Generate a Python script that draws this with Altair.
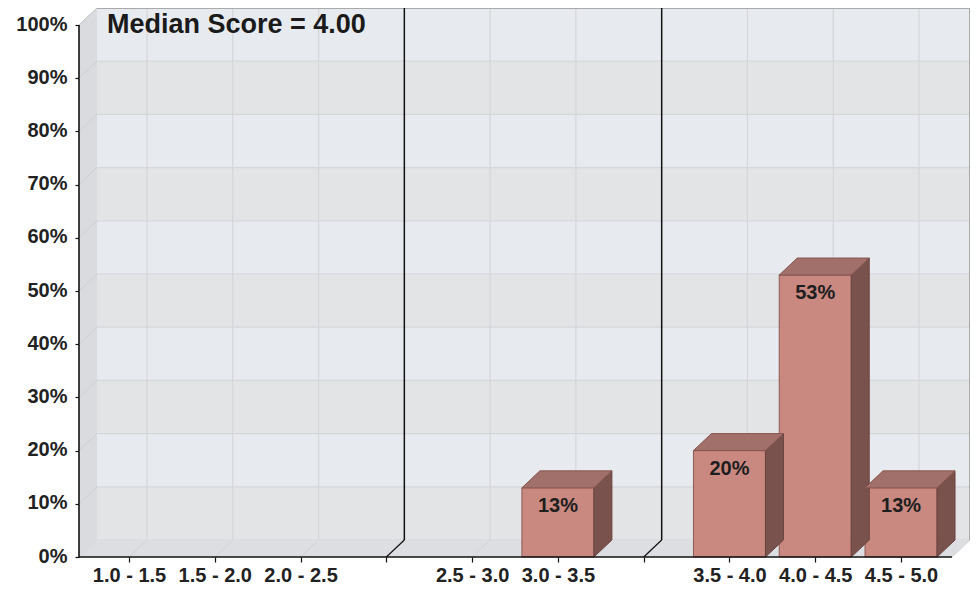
import json
import altair as alt
import pandas as pd

# ---------------- data ----------------
categories = ["1.0 - 1.5", "1.5 - 2.0", "2.0 - 2.5", "", "2.5 - 3.0", "3.0 - 3.5",
              "", "3.5 - 4.0", "4.0 - 4.5", "4.5 - 5.0"]
percent = [0, 0, 0, None, 0, 13, None, 20, 53, 13]
divider_slots = [3, 6]
y_ticks = [0, 10, 20, 30, 40, 50, 60, 70, 80, 90, 100]
title_text = "Median Score = 4.00"

# ---------------- geometry (pixels -> data units) ----------------
W, H = 891, 549
SLOT = 85.78                      # px per category slot
X0 = -50 / SLOT                   # left edge of plot (y axis)
X1 = X0 + W / SLOT                # right edge of back wall
DXP, DYP = 18, 17                 # 3D depth in px
DX = DXP / SLOT
Y1 = 100 / (1 - DYP / H)          # top of back wall
DY = Y1 - 100
BW = 36 / SLOT                    # half bar width

FONT = "Liberation Sans"
xs = alt.Scale(domain=[X0, X1], nice=False, zero=False)
ys = alt.Scale(domain=[0, Y1], nice=False, zero=False)

label_expr = json.dumps(categories) + "[round(datum.value)]"
x_axis = alt.Axis(
    values=list(range(len(categories))), labelExpr=label_expr, domain=False, grid=False,
    tickColor="#111", tickSize=5, tickWidth=1.2, labelFont=FONT, labelFontSize=20,
    labelFontWeight="bold", labelColor="#222", labelPadding=3, labelOverlap=False,
    labelFlush=False, labelBound=False, title=None)
y_axis = alt.Axis(
    values=y_ticks, labelExpr="datum.value + '%'", domain=False, grid=False,
    tickColor="#111", tickSize=4, tickWidth=1.2, labelFont=FONT, labelFontSize=20,
    labelFontWeight="bold", labelColor="#222", labelPadding=8, labelOffset=-1, title=None)


def X(f="x"):
    return alt.X(f"{f}:Q", scale=xs, axis=x_axis, title=None)


def Y(f="y"):
    return alt.Y(f"{f}:Q", scale=ys, axis=y_axis, title=None)


# ---------------- back wall bands ----------------
bands = pd.DataFrame({
    "x": [X0 + DX] * 10, "x2": [X1] * 10,
    "y": [v + DY for v in y_ticks[:-1]], "y2": [v + 10 + DY for v in y_ticks[:-1]],
    "shade": ["d" if (v // 10) % 2 == 0 else "l" for v in y_ticks[:-1]],
})
wall = alt.Chart(bands).mark_rect().encode(
    x=X(), x2="x2", y=Y(), y2="y2",
    color=alt.Color("shade:N", scale=alt.Scale(domain=["d", "l"], range=["#e3e4e6", "#e7eaee"]), legend=None),
)

# horizontal grid on back wall
hgrid = alt.Chart(pd.DataFrame({"y": [v + DY for v in y_ticks[:-1]]})).mark_rule(
    color="#d5d6d9", strokeWidth=1.2).encode(x=alt.value(DXP), x2=alt.value(W), y=Y())

# vertical grid on back wall
slots = [i for i, c in enumerate(categories) if c]
vgrid = alt.Chart(pd.DataFrame({"x": [i + DX for i in slots]})).mark_rule(
    color="#d5d6d9", strokeWidth=1.2).encode(x=X(), y=alt.value(H - DYP), y2=alt.value(0))

# left side wall
side = pd.DataFrame({"x": [X0, X0 + DX], "y": [0, DY], "y2": [100, 100 + DY]})
sidewall = alt.Chart(side).mark_area(color="#d9dbde").encode(x=X(), y=Y(), y2="y2")
side_diag = alt.Chart(pd.DataFrame({"y": y_ticks})).transform_calculate(
    x=str(X0), x2=str(X0 + DX), y2=f"datum.y + {DY}"
).mark_rule(color="#cdd0d3").encode(x=X(), x2="x2:Q", y=Y(), y2="y2:Q")

# floor
floor_df = pd.DataFrame({"x": [X0, X0 + DX, X1 - DX, X1], "y": [0, 0, 0, DY], "y2": [0, DY, DY, DY]})
floor = alt.Chart(floor_df).mark_area(color="#dcdee1").encode(x=X(), y=Y(), y2="y2")
floor_diag = alt.Chart(pd.DataFrame({"x": [float(i) for i in slots] + [X1 - DX]})).transform_calculate(
    x2=f"datum.x + {DX}", y="0", y2=str(DY)
).mark_rule(color="#cfd1d4").encode(x=X(), x2="x2:Q", y=Y(), y2="y2:Q")

# borders
top_border = alt.Chart(pd.DataFrame({"y": [Y1]})).mark_rule(color="#a9a9a9", strokeWidth=2).encode(
    x=alt.value(DXP), x2=alt.value(W), y=Y())
right_border = alt.Chart(pd.DataFrame({"x": [X1]})).mark_rule(color="#a9a9a9", strokeWidth=2).encode(
    x=X(), y=alt.value(0), y2=alt.value(H - DYP))
tl_diag = alt.Chart(pd.DataFrame({"x": [X0], "x2": [X0 + DX], "y": [100], "y2": [Y1]})).mark_rule(
    color="#c4c6c9").encode(x=X(), x2="x2:Q", y=Y(), y2="y2:Q")

# dividers
div_v = alt.Chart(pd.DataFrame({"x": [d + DX for d in divider_slots]})).mark_rule(
    color="#111", strokeWidth=1.5).encode(x=X(), y=alt.value(0), y2=alt.value(H - DYP))
div_d = alt.Chart(pd.DataFrame({"x": [float(d) for d in divider_slots]})).transform_calculate(
    x2=f"datum.x + {DX}", y="0", y2=str(DY)
).mark_rule(color="#111", strokeWidth=1.2).encode(x=X(), x2="x2:Q", y=Y(), y2="y2:Q")

# ---------------- bars ----------------
bars = [(i, v) for i, v in enumerate(percent) if v]
front_df = pd.DataFrame({"x": [i - BW for i, v in bars], "x2": [i + BW for i, v in bars],
                         "y": [0] * len(bars), "y2": [v for i, v in bars],
                         "label": [f"{v}%" for i, v in bars], "c": [float(i) for i, v in bars]})
front = alt.Chart(front_df).mark_rect(color="#c98880", stroke="#8e5a54", strokeWidth=1).encode(
    x=X(), x2="x2", y=Y(), y2="y2")

top_rows, side_rows = [], []
for k, (i, v) in enumerate(bars):
    a, b = i - BW, i + BW
    top_rows += [
        {"id": k, "x": a, "y": v, "y2": v},
        {"id": k, "x": a + DX, "y": v, "y2": v + DY},
        {"id": k, "x": b, "y": v, "y2": v + DY},
        {"id": k, "x": b + DX, "y": v + DY, "y2": v + DY},
    ]
    side_rows += [
        {"id": k, "x": b, "y": 0, "y2": v},
        {"id": k, "x": b + DX, "y": DY, "y2": v + DY},
    ]
top = alt.Chart(pd.DataFrame(top_rows)).mark_area(color="#a2706a", stroke="#86554f", strokeWidth=1).encode(
    x=X(), y=Y(), y2="y2", detail="id:N")
sideface = alt.Chart(pd.DataFrame(side_rows)).mark_area(color="#7a524d", stroke="#6a443f", strokeWidth=1).encode(
    x=X(), y=Y(), y2="y2", detail="id:N")

labels = alt.Chart(front_df).mark_text(font=FONT, fontSize=20, fontWeight="bold", color="#1e1e1e",
                                       baseline="middle", dy=18).encode(
    x=X("c"), y=Y("y2"), text="label:N")

# ---------------- axis lines ----------------
x_line = alt.Chart(pd.DataFrame({"y": [0]})).mark_rule(color="#111", strokeWidth=1.6).encode(
    x=alt.value(0), x2=alt.value(W - DXP), y=Y())
y_line = alt.Chart(pd.DataFrame({"x": [X0], "y": [0], "y2": [100]})).mark_rule(
    color="#111", strokeWidth=1.6).encode(x=X(), y=Y(), y2="y2:Q")

title = alt.Chart(pd.DataFrame({"t": [title_text]})).mark_text(
    font=FONT, fontSize=27, fontWeight="bold", color="#1a1a1a", align="left", baseline="alphabetic"
).encode(x=alt.value(28), y=alt.value(25), text="t:N")

chart = alt.layer(
    wall, hgrid, vgrid, sidewall, side_diag, floor, floor_diag, tl_diag, top_border, right_border,
    div_v, div_d, front, sideface, top, labels, x_line, y_line, title,
).properties(
    width=W, height=H,
    padding={"left": 71, "top": 0, "right": 0, "bottom": 33},
    autosize=alt.AutoSizeParams(type="none"),
    background="white",
).configure_view(stroke=None)

chart.save("out.html", embed_options={"renderer": "svg", "actions": False})
